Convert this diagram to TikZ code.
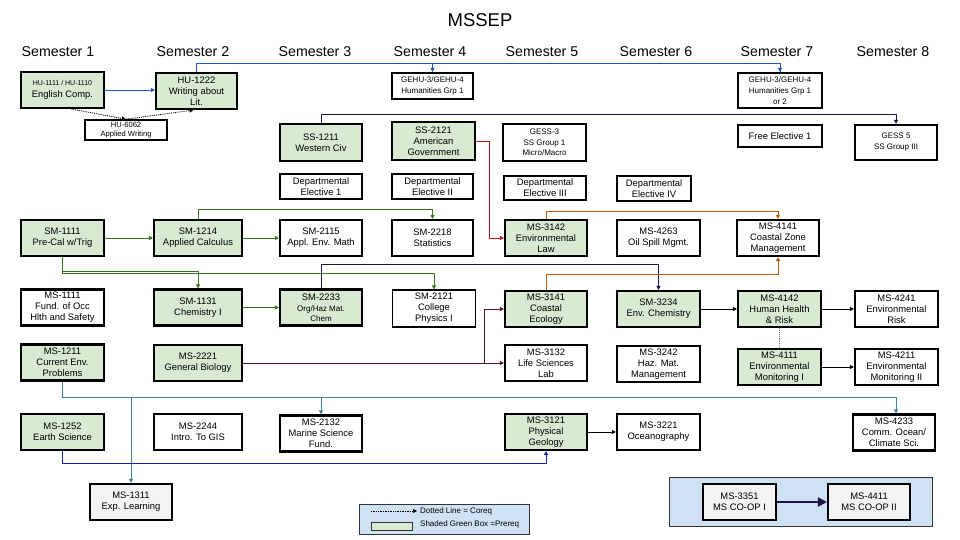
\documentclass[tikz,border=0pt]{standalone}
\usepackage{fontspec}
\setmainfont{Liberation Sans}
\usetikzlibrary{arrows.meta}
\definecolor{boxgreen}{HTML}{D9EAD3}
\definecolor{boxgray}{HTML}{F3F3F3}
\definecolor{panelblue}{HTML}{CFE2F3}
\definecolor{hublue}{HTML}{1F57C0}
\definecolor{navyln}{HTML}{20124D}
\definecolor{greenln}{HTML}{38761D}
\definecolor{redln}{HTML}{B01818}
\definecolor{maroonln}{HTML}{5B1034}
\definecolor{orangeln}{HTML}{B45F06}
\definecolor{tealln}{HTML}{45818E}
\definecolor{botblue}{HTML}{1A1AA6}
\newcommand\bodyf{\fontsize{9.4}{11}\selectfont}
\newcommand\smf{\fontsize{8}{11}\selectfont}
\newcommand\tinyf{\fontsize{7}{9}\selectfont}
\tikzset{
  crs/.style={draw=black, line width=2.1pt, align=center, inner sep=0pt, font=\bodyf},
  grn/.style={crs, fill=boxgreen},
  wht/.style={crs, fill=white},
  gry/.style={crs, fill=boxgray},
  thinb/.style={line width=1.1pt},
  con/.style={line width=0.9pt, -{Triangle[length=4pt,width=4pt]}},
  plain/.style={line width=0.9pt},
  sem/.style={font=\fontsize{14.2}{16}\selectfont},
}
\begin{document}
\begin{tikzpicture}[x=1pt,y=-1pt]
\useasboundingbox (0,0) rectangle (960,540);
\fill[white] (0,0) rectangle (960,540);

% title and headers
\node[font=\fontsize{18.5}{20}\selectfont] (title) at (480,20) {MSSEP};
\node[sem] (s1) at (58,52) {Semester 1};
\node[sem] (s2) at (193,52) {Semester 2};
\node[sem] (s3) at (315,52) {Semester 3};
\node[sem] (s4) at (430,52) {Semester 4};
\node[sem] (s5) at (542,52) {Semester 5};
\node[sem] (s6) at (656,52) {Semester 6};
\node[sem] (s7) at (777,52) {Semester 7};
\node[sem] (s8) at (893,52) {Semester 8};

% top rows
\node[grn, minimum width=83pt, minimum height=36pt] (hu1111) at (62.5,90) {{\tinyf HU-1111 / HU-1110}\\[1pt]English Comp.};
\node[grn, minimum width=81pt, minimum height=36pt] (hu1222) at (196.5,91) {HU-1222\\Writing about\\Lit.};
\node[wht, line width=1.6pt, minimum width=82pt, minimum height=20pt, font=\fontsize{7.6}{9.2}\selectfont] (hu6062) at (126,130) {HU-6062\\Applied Writing};
\node[wht, minimum width=81pt, minimum height=26pt, font=\smf] (gehu4) at (432.5,86) {GEHU-3/GEHU-4\\Humanities Grp 1};
\node[wht, minimum width=84pt, minimum height=35pt, font=\fontsize{8}{10.7}\selectfont] (gehu7) at (780,90.5) {GEHU-3/GEHU-4\\Humanities Grp 1\\or 2};

\node[grn, minimum width=82pt, minimum height=37pt] (ss1211) at (321,142.5) {SS-1211\\Western Civ};
\node[grn, thinb, minimum width=83pt, minimum height=38pt] (ss2121) at (433.5,141) {SS-2121\\American\\Government};
\node[wht, minimum width=83pt, minimum height=37pt, font=\fontsize{8}{10.5}\selectfont] (gess3) at (544.5,142.5) {GESS-3\\SS Group 1\\Micro/Macro};
\node[wht, minimum width=84pt, minimum height=22pt] (free1) at (780,136) {Free Elective 1};
\node[wht, minimum width=82pt, minimum height=35pt, font=\smf] (gess5) at (896,142.5) {GESS 5\\SS Group III};

\node[wht, minimum width=82pt, minimum height=25pt] (de1) at (321,186.5) {Departmental\\Elective 1};
\node[wht, minimum width=81pt, minimum height=25pt] (de2) at (432.5,186.5) {Departmental\\Elective II};
\node[wht, minimum width=82pt, minimum height=24pt] (de3) at (545,188) {Departmental\\Elective III};
\node[wht, minimum width=74pt, minimum height=25pt] (de4) at (654,188.5) {Departmental\\Elective IV};

% row SM
\node[grn, minimum width=83pt, minimum height=36pt] (sm1111) at (62.5,238) {SM-1111\\Pre-Cal w/Trig};
\node[grn, minimum width=88pt, minimum height=36pt] (sm1214) at (198,238) {SM-1214\\Applied Calculus};
\node[wht, minimum width=82pt, minimum height=36pt] (sm2115) at (321,238) {SM-2115\\Appl. Env. Math};
\node[wht, minimum width=81pt, minimum height=36pt] (sm2218) at (432.5,238) {SM-2218\\Statistics};
\node[grn, minimum width=82pt, minimum height=36pt] (ms3142) at (546,238) {MS-3142\\Environmental\\Law};
\node[wht, minimum width=83pt, minimum height=36pt] (ms4263) at (658.5,238) {MS-4263\\Oil Spill Mgmt.};
\node[wht, minimum width=82pt, minimum height=36pt] (ms4141) at (778,238) {MS-4141\\Coastal Zone\\Management};

% row 2
\node[wht, minimum width=83pt, minimum height=36pt] (ms1111) at (62.5,307.5) {MS-1111\\Fund. of Occ\\Hlth and Safety};
\node[grn, minimum width=88pt, minimum height=36pt] (sm1131) at (198,307.5) {SM-1131\\Chemistry I};
\node[grn, minimum width=82pt, minimum height=36pt] (sm2233) at (321,307.5) {SM-2233\\{\smf Org/Haz Mat.}\\[-1pt]{\smf Chem}};
\node[wht, thinb, minimum width=83pt, minimum height=37pt] (sm2121) at (434,308.5) {SM-2121\\College\\Physics I};
\node[grn, minimum width=82pt, minimum height=36pt] (ms3141) at (546,309) {MS-3141\\Coastal\\Ecology};
\node[grn, minimum width=83pt, minimum height=36pt] (sm3234) at (658.5,309) {SM-3234\\Env. Chemistry};
\node[grn, minimum width=83pt, minimum height=36pt] (ms4142) at (779.5,309) {MS-4142\\Human Health\\\& Risk};
\node[wht, minimum width=83pt, minimum height=36pt] (ms4241) at (896.5,309) {MS-4241\\Environmental\\Risk};

% row 3
\node[grn, minimum width=83pt, minimum height=36pt] (ms1211) at (62.5,362.5) {MS-1211\\Current Env.\\Problems};
\node[grn, minimum width=88pt, minimum height=36pt] (ms2221) at (198,363) {MS-2221\\General Biology};
\node[wht, minimum width=82pt, minimum height=36pt] (ms3132) at (546,363) {MS-3132\\Life Sciences\\Lab};
\node[wht, minimum width=83pt, minimum height=36pt] (ms3242) at (658.5,364) {MS-3242\\Haz. Mat.\\Management};
\node[grn, minimum width=83pt, minimum height=36pt] (ms4111) at (779.5,367) {MS-4111\\Environmental\\Monitoring I};
\node[wht, minimum width=83pt, minimum height=36pt] (ms4211) at (896.5,367) {MS-4211\\Environmental\\Monitoring II};

% row 4
\node[grn, minimum width=83pt, minimum height=36pt] (ms1252) at (62.5,432) {MS-1252\\Earth Science};
\node[wht, minimum width=88pt, minimum height=36pt] (ms2244) at (198,432) {MS-2244\\Intro. To GIS};
\node[wht, minimum width=82pt, minimum height=36pt] (ms2132) at (321,433.5) {MS-2132\\Marine Science\\Fund.};
\node[grn, minimum width=82pt, minimum height=36pt] (ms3121) at (546,432) {MS-3121\\Physical\\Geology};
\node[wht, minimum width=83pt, minimum height=36pt] (ms3221) at (658.5,432) {MS-3221\\Oceanography};
\node[wht, minimum width=82pt, minimum height=36pt] (ms4233) at (894,432.5) {MS-4233\\Comm. Ocean/\\Climate Sci.};

\node[gry, minimum width=82pt, minimum height=36pt] (ms1311) at (131,502) {MS-1311\\Exp. Learning};

% co-op panel
\node[draw=black!80, line width=1pt, fill=panelblue, minimum width=263pt, minimum height=49pt, inner sep=0pt] (coop) at (801,502) {};
\node[gry, minimum width=73pt, minimum height=36pt] (ms3351) at (739.5,502) {MS-3351\\MS CO-OP I};
\node[gry, minimum width=82pt, minimum height=36pt] (ms4411) at (869,502) {MS-4411\\MS CO-OP II};
\draw[line width=2pt, navyln, -{Triangle[length=9pt,width=9pt]}] (ms3351) -- (ms4411);

% legend
\node[draw=black!80, line width=1pt, fill=panelblue, minimum width=170pt, minimum height=30pt, inner sep=0pt] (legend) at (444,519) {};
\coordinate (lga) at (371,511);
\coordinate (lgb) at (417,511);
\draw[densely dotted, line width=0.7pt, -{Triangle[length=4pt,width=4pt]}] (lga) -- (lgb);
\node[draw=black!80, line width=0.8pt, fill=boxgreen, minimum width=41pt, minimum height=8pt, inner sep=0pt] (swatch) at (391.5,526) {};
\node[anchor=west, font=\smf, inner sep=0pt] (lt1) at (420,511) {Dotted Line = Coreq};
\node[anchor=west, font=\smf, inner sep=0pt] (lt2) at (420,524) {Shaded Green Box =Prereq};

% connectors
\coordinate (bt) at (0,63);
\coordinate (nt) at (0,114);
\coordinate (redx) at (489,0);
\coordinate (gt) at (0,209);
\coordinate (g1) at (0,271);
\coordinate (g2) at (0,273.5);
\coordinate (nv) at (0,264);
\coordinate (mx) at (484,0);
\coordinate (o1) at (0,211);
\coordinate (o2) at (0,274);
\coordinate (tl) at (0,397);
\coordinate (bb) at (0,463);

\draw[con, hublue] (hu1111.east) -- (hu1222.west |- hu1111.east);
\draw[densely dotted, line width=0.9pt, -{Triangle[length=4pt,width=4pt]}] ([xshift=9pt]hu1111.south) -- (hu6062.north);
\draw[densely dotted, line width=0.9pt, -{Triangle[length=4pt,width=4pt]}] (hu6062.north) -- ([xshift=-3pt]hu1222.south);
\draw[plain, hublue] (hu1222.north) -- (hu1222.north |- bt) -| (gehu7.north);
\draw[con, hublue] (gehu7.north |- bt) -- (gehu7.north);
\draw[con, hublue] (gehu4.north |- bt) -- (gehu4.north);

\draw[con, navyln] (ss1211.north) -- (ss1211.north |- nt) -| (gess5.north);
\draw[con, redln] (ss2121.east) -- (ss2121.east -| redx) |- (ms3142.west);

\draw[con, greenln] (sm1111.east) -- (sm1214.west);
\draw[con, greenln] (sm1214.east) -- (sm2115.west);
\draw[con, greenln] (sm1214.north) -- (sm1214.north |- gt) -| (sm2218.north);
\draw[con, greenln] (sm1111.south) -- (sm1111.south |- g1) -| (sm1131.north);
\draw[con, greenln] (sm1111.south) -- (sm1111.south |- g2) -| (sm2121.north);
\draw[con, greenln] (sm1131.east) -- (sm2233.west);

\draw[con, navyln] (sm2233.north) -- (sm2233.north |- nv) -| (sm3234.north);

\draw[con, maroonln] (ms2221.east) -- (ms3132.west |- ms2221.east);
\draw[con, maroonln] (ms2221.east -| mx) |- (ms3141.west);

\draw[con, orangeln] (ms3142.north) -- (ms3142.north |- o1) -| (ms4141.north);
\draw[con, orangeln] (ms3141.north) -- (ms3141.north |- o2) -| (ms4141.south);

\draw[con, black] (sm3234.east) -- (ms4142.west);
\draw[con, black] (ms4142.east) -- (ms4241.west);
\draw[con, black] (ms4111.east) -- (ms4211.west);
\draw[con, black] (ms3121.east) -- (ms3221.west);
\draw[densely dotted, line width=0.9pt, black!55] (ms4142.south) -- (ms4111.north);

\draw[con, tealln] (ms1211.south) -- (ms1211.south |- tl) -| ([xshift=2pt]ms4233.north);
\draw[con, tealln] (ms2132.north |- tl) -- (ms2132.north);
\draw[con, tealln] (ms1311.north |- tl) -- (ms1311.north);

\draw[con, botblue] (ms1252.south) -- (ms1252.south |- bb) -| (ms3121.south);
\end{tikzpicture}
\end{document}
